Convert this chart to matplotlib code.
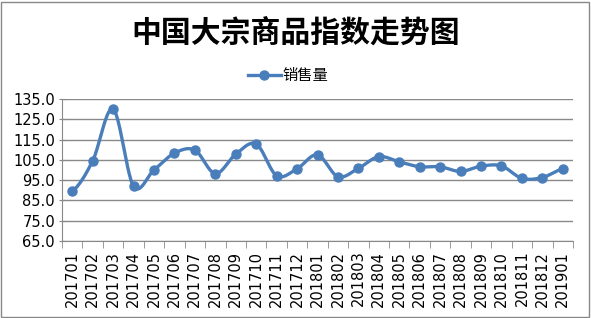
import numpy as np
import matplotlib.pyplot as plt
from matplotlib.patches import Rectangle

plt.rcParams['font.family'] = ['Noto Sans CJK SC', 'DejaVu Sans']

months = ["201701", "201702", "201703", "201704", "201705", "201706", "201707",
          "201708", "201709", "201710", "201711", "201712", "201801", "201802",
          "201803", "201804", "201805", "201806", "201807", "201808", "201809",
          "201810", "201811", "201812", "201901"]
sales = [89.5, 104.5, 130.0, 92.0, 100.0, 108.3, 109.8, 98.2, 107.8, 112.8, 97.2,
         100.6, 107.5, 96.7, 100.8, 106.6, 104.0, 101.6, 101.6, 99.3, 101.9,
         102.0, 95.9, 96.3, 100.5]
yticks = [65, 75, 85, 95, 105, 115, 125, 135]

title = "中国大宗商品指数走势图"
series_name = "销售量"
blue = "#4a7ebb"
grid_c = "#898989"


def smooth(y, steps=24):
    # catmull-rom, close to excel's smoothed line
    y = np.asarray(y, dtype=float)
    p = np.concatenate([[y[0]], y, [y[-1]]])
    xs, ys = [], []
    for i in range(len(y) - 1):
        p0, p1, p2, p3 = p[i], p[i + 1], p[i + 2], p[i + 3]
        t = np.linspace(0, 1, steps, endpoint=False)
        v = 0.5 * (2 * p1 + (-p0 + p2) * t + (2 * p0 - 5 * p1 + 4 * p2 - p3) * t ** 2
                   + (-p0 + 3 * p1 - 3 * p2 + p3) * t ** 3)
        xs.append(i + t)
        ys.append(v)
    xs.append([len(y) - 1])
    ys.append([y[-1]])
    return np.concatenate(xs), np.concatenate(ys)


fig = plt.figure(figsize=(5.91, 3.18), dpi=100)
ax = fig.add_axes([62 / 591, 1 - 241 / 318, 511 / 591, 142 / 318])

x = np.arange(len(months))
sx, sy = smooth(sales)
ax.plot(sx, sy, color=blue, lw=2.4, solid_capstyle="round", zorder=3)
ax.plot(x, sales, linestyle="none", marker="o", ms=6.5, color=blue, zorder=4)

ax.set_xlim(-0.5, len(months) - 0.5)
ax.set_ylim(65, 135)
ax.set_yticks(yticks)
ax.set_yticklabels([f"{v:.1f}" for v in yticks], fontsize=10.5, family="DejaVu Sans")
ax.set_xticks(x)
ax.set_xticklabels(months, rotation=90, fontsize=10.5, family="DejaVu Sans")
ax.set_xticks(np.arange(len(months) + 1) - 0.5, minor=True)
ax.tick_params(axis="x", which="major", length=0, pad=7)
ax.tick_params(axis="x", which="minor", length=5, color=grid_c, direction="out")
ax.tick_params(axis="y", length=4, color=grid_c, direction="inout", pad=3)

ax.grid(axis="y", color=grid_c, lw=1)
ax.set_axisbelow(True)
for s in ["top", "right"]:
    ax.spines[s].set_visible(False)
for s in ["left", "bottom"]:
    ax.spines[s].set_color(grid_c)

fig.text(0.5, 1 - 33 / 318, title, ha="center", va="center", fontsize=21.5,
         fontweight="bold")
leg_line, = ax.plot([], [], color=blue, lw=2.4, marker="o", ms=6.5, label=series_name)
fig.legend(handles=[leg_line], loc="center", bbox_to_anchor=(288 / 591, 1 - 76 / 318),
           frameon=False, fontsize=11, handlelength=2.2, handletextpad=0.1)

fig.patches.append(Rectangle((1.5 / 591, 1.5 / 318), 587 / 591, 315 / 318,
                             transform=fig.transFigure, fill=False,
                             edgecolor="#888888", lw=1))

fig.savefig("out.png", dpi=100)
